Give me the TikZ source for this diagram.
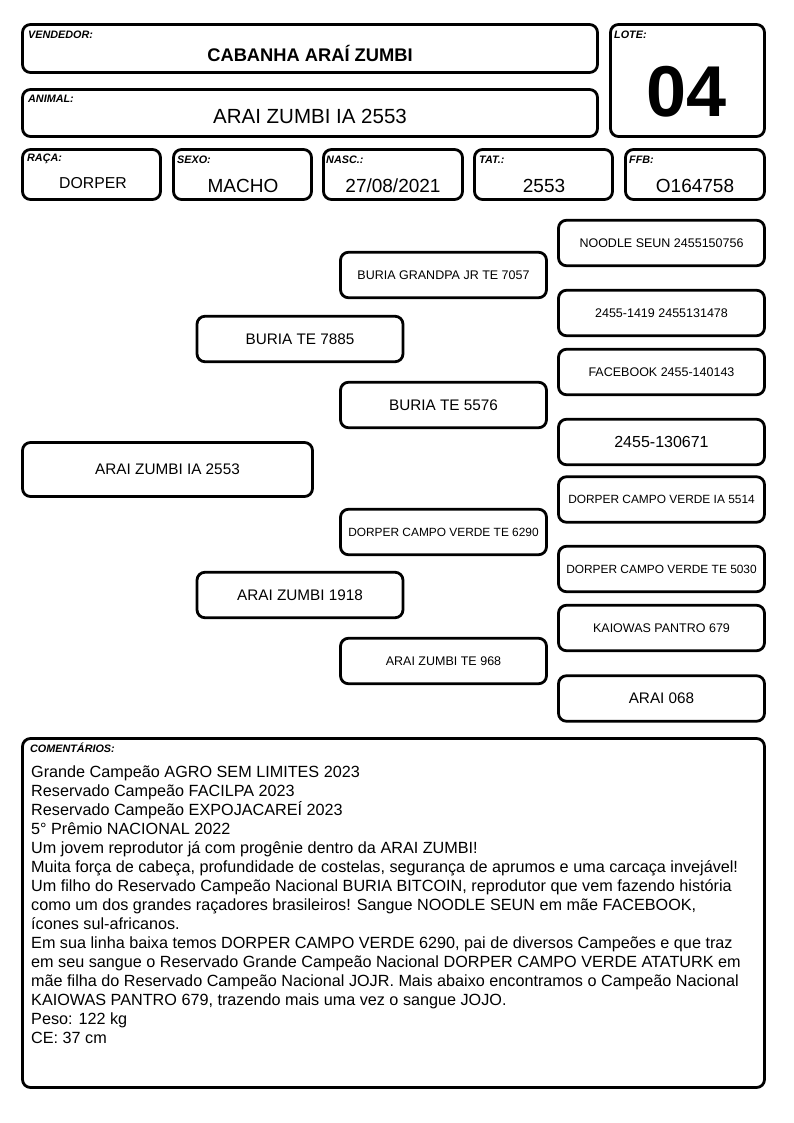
\documentclass[tikz,border=0pt]{standalone}
\usepackage{fontspec}
\setmainfont{Liberation Sans}
\begin{document}
\begin{tikzpicture}[x=1pt,y=-1pt,
  box/.style={draw=black, line width=2.8pt, rounded corners=8pt, fill=white, inner sep=0pt},
  pbox/.style={box, minimum width=206pt, minimum height=45.5pt},
  lbl/.style={anchor=west, inner sep=0pt, font=\fontsize{10.8}{12}\selectfont\bfseries\itshape},
  val/.style={inner sep=0pt, font=\fontsize{19}{22}\selectfont},
  ptxt/.style={font=\fontsize{15.3}{18}\selectfont},
  psml/.style={font=\fontsize{12.5}{15}\selectfont},
  psmx/.style={font=\fontsize{11.9}{14}\selectfont},
  ctxt/.style={anchor=base west, inner sep=0pt, font=\fontsize{16.2}{19}\selectfont}
]
\useasboundingbox[fill=white] (0,0) rectangle (794,1123);

% header boxes
\node[box, minimum width=575pt, minimum height=48pt] (vend) at (310,48.5) {};
\node[lbl] (vendl) at (28,35) {VENDEDOR:};
\node[inner sep=0pt, font=\fontsize{18.3}{22}\selectfont\bfseries] (vendv) at (310,53) {CABANHA ARAÍ ZUMBI};

\node[box, minimum width=575pt, minimum height=47pt] (anim) at (310,113) {};
\node[lbl] (animl) at (28,99) {ANIMAL:};
\node[inner sep=0pt, font=\fontsize{20.5}{24}\selectfont] (animv) at (310,116) {ARAI ZUMBI IA 2553};

\node[box, minimum width=154pt, minimum height=112pt] (lote) at (687.5,80.5) {};
\node[lbl] (lotel) at (614,35) {LOTE:};
\node[inner sep=0pt, font=\fontsize{72}{80}\selectfont\bfseries] (lotev) at (687,92) {04};

\node[box, minimum width=138pt, minimum height=50pt] (raca) at (91.5,174.5) {};
\node[lbl] (racal) at (27,159) {RAÇA:};
\node[inner sep=0pt, font=\fontsize{15.8}{19}\selectfont] (racav) at (93,183) {DORPER};

\node[box, minimum width=138pt, minimum height=50pt] (sexo) at (242.5,174.5) {};
\node[lbl] (sexol) at (177,160) {SEXO:};
\node[val] (sexov) at (243,186) {MACHO};

\node[box, minimum width=139pt, minimum height=50pt] (nasc) at (393,174.5) {};
\node[lbl] (nascl) at (326,160) {NASC.:};
\node[val] (nascv) at (393,186) {27/08/2021};

\node[box, minimum width=138pt, minimum height=50pt] (tat) at (543.5,174.5) {};
\node[lbl] (tatl) at (479,160) {TAT.:};
\node[val] (tatv) at (544,186) {2553};

\node[box, minimum width=139pt, minimum height=50pt] (ffb) at (695,174.5) {};
\node[lbl] (ffbl) at (629,160) {FFB:};
\node[val] (ffbv) at (695,186) {O164758};

% pedigree
\node[box, ptxt, minimum width=290pt, minimum height=54pt] (g1) at (167.5,469.5) {ARAI ZUMBI IA 2553};

\node[pbox, ptxt] (g2a) at (300,339) {BURIA TE 7885};
\node[pbox, ptxt] (g2b) at (300,595) {ARAI ZUMBI 1918};

\node[pbox, psml] (g3a) at (443.5,275) {BURIA GRANDPA JR TE 7057};
\node[pbox, ptxt] (g3b) at (443.5,405) {BURIA TE 5576};
\node[pbox, psmx] (g3c) at (443.5,532) {DORPER CAMPO VERDE TE 6290};
\node[pbox, psml] (g3d) at (443.5,661) {ARAI ZUMBI TE 968};

\node[pbox, psml] (g4a) at (661.5,243) {NOODLE SEUN 2455150756};
\node[pbox, psml] (g4b) at (661.5,313) {2455-1419 2455131478};
\node[pbox, psml] (g4c) at (661.5,372) {FACEBOOK 2455-140143};
\node[pbox, font=\fontsize{16}{19}\selectfont] (g4d) at (661.5,442) {2455-130671};
\node[pbox, psmx] (g4e) at (661.5,499.5) {DORPER CAMPO VERDE IA 5514};
\node[pbox, psmx] (g4f) at (661.5,569) {DORPER CAMPO VERDE TE 5030};
\node[pbox, psml] (g4g) at (661.5,628) {KAIOWAS PANTRO 679};
\node[pbox, ptxt] (g4h) at (661.5,698.5) {ARAI 068};

% comments
\node[box, minimum width=742pt, minimum height=349pt] (com) at (393.5,913) {};
\node[lbl] (coml) at (30,748) {COMENTÁRIOS:};
\foreach \t [count=\i] in {
 {Grande Campeão AGRO SEM LIMITES 2023},
 {Reservado Campeão FACILPA 2023},
 {Reservado Campeão EXPOJACAREÍ 2023},
 {5° Prêmio NACIONAL 2022},
 {Um jovem reprodutor já com progênie dentro da ARAI ZUMBI!},
 {Muita força de cabeça, profundidade de costelas, segurança de aprumos e uma carcaça invejável!},
 {Um filho do Reservado Campeão Nacional BURIA BITCOIN, reprodutor que vem fazendo história},
 {como um dos grandes raçadores brasileiros! Sangue NOODLE SEUN em mãe FACEBOOK,},
 {ícones sul-africanos.},
 {Em sua linha baixa temos DORPER CAMPO VERDE 6290, pai de diversos Campeões e que traz},
 {em seu sangue o Reservado Grande Campeão Nacional DORPER CAMPO VERDE ATATURK em},
 {mãe filha do Reservado Campeão Nacional JOJR. Mais abaixo encontramos o Campeão Nacional},
 {KAIOWAS PANTRO 679, trazendo mais uma vez o sangue JOJO.},
 {Peso: 122 kg},
 {CE: 37 cm}}
 \node[ctxt, name=c\i] at (31,{777+19*(\i-1)}) {\t};
\end{tikzpicture}
\end{document}
